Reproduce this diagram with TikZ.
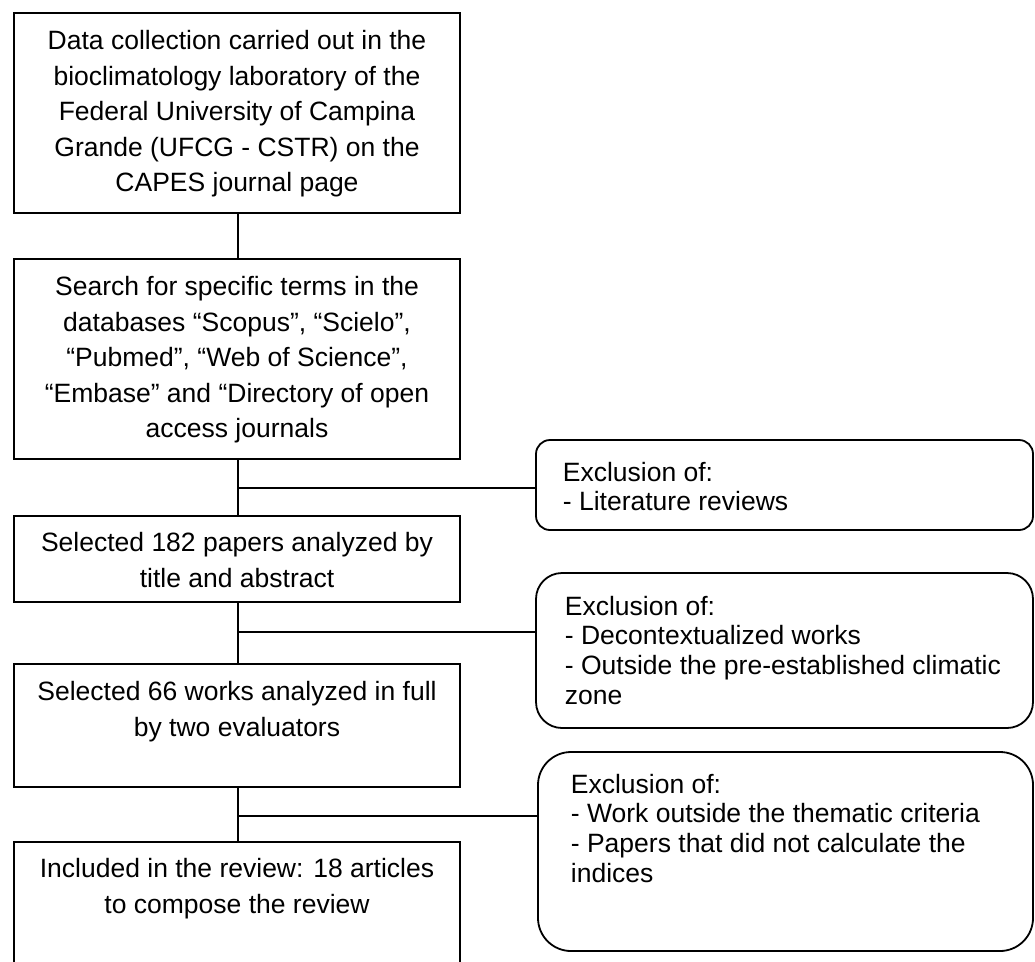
\documentclass[tikz,border=0pt]{standalone}
\usepackage{fontspec}
\setmainfont{Liberation Sans}
\begin{document}
\begin{tikzpicture}[x=1pt,y=-1pt,
  line width=1.8pt,
  mainbox/.style={draw, rectangle, anchor=north west, inner sep=0pt, outer sep=0pt},
  exbox/.style={draw, rectangle, rounded corners=#1, anchor=north west, inner sep=0pt, outer sep=0pt},
  maintext/.style={anchor=base, align=center, inner sep=0pt, font=\fontsize{26.5}{35.5}\selectfont},
  extext/.style={anchor=base west, align=left, inner sep=0pt, font=\fontsize{26.5}{29.8}\selectfont},
  link/.style={draw, line width=1.8pt}
]
\useasboundingbox (0,0) rectangle (1035,961);
\clip (0,0) rectangle (1035,961);

% main boxes
\node[mainbox, minimum width=446pt, minimum height=200pt] (b1) at (14,13) {};
\node[mainbox, minimum width=446pt, minimum height=200pt] (b2) at (14,259) {};
\node[mainbox, minimum width=446pt, minimum height=86pt] (b3) at (14,516) {};
\node[mainbox, minimum width=446pt, minimum height=123pt] (b4) at (14,664) {};
\node[mainbox, minimum width=446pt, minimum height=170pt] (b5) at (14,842) {};

% exclusion boxes
\node[exbox=14pt, minimum width=497pt, minimum height=90pt] (e1) at (536,440) {};
\node[exbox=26pt, minimum width=497pt, minimum height=155pt] (e2) at (536,573) {};
\node[exbox=33pt, minimum width=495pt, minimum height=199pt] (e3) at (538,752) {};

% main texts (anchor = baseline of the last line)
\node[maintext] (t1) at ([yshift=-178.5pt]b1.north) {Data collection carried out in the\\bioclimatology laboratory of the\\Federal University of Campina\\Grande (UFCG - CSTR) on the\\CAPES journal page};
\node[maintext] (t2) at ([yshift=-178.5pt]b2.north) {Search for specific terms in the\\databases “Scopus”, “Scielo”,\\“Pubmed”, “Web of Science”,\\“Embase” and “Directory of open\\access journals};
\node[maintext] (t3) at ([yshift=-71pt]b3.north) {Selected 182 papers analyzed by\\title and abstract};
\node[maintext] (t4) at ([yshift=-72pt]b4.north) {Selected 66 works analyzed in full\\by two evaluators};
\node[maintext] (t5) at ([yshift=-71pt]b5.north) {Included in the review: 18 articles\\to compose the review};

% exclusion texts
\node[extext] (x1) at ([xshift=26pt,yshift=-70.8pt]e1.north west) {Exclusion of:\\- Literature reviews};
\node[extext] (x2) at ([xshift=28pt,yshift=-131.4pt]e2.north west) {Exclusion of:\\- Decontextualized works\\- Outside the pre-established climatic\\zone};
\node[extext] (x3) at ([xshift=32pt,yshift=-130.4pt]e3.north west) {Exclusion of:\\- Work outside the thematic criteria\\- Papers that did not calculate the\\indices};

% connectors
\coordinate (j1) at (238,488);
\coordinate (j2) at (238,632);
\coordinate (j3) at (238,816);
\draw[link] (b1.south -| j1) -- (b2.north -| j1);
\draw[link] (b2.south -| j1) -- (b3.north -| j1);
\draw[link] (b3.south -| j2) -- (b4.north -| j2);
\draw[link] (b4.south -| j3) -- (b5.north -| j3);
\draw[link] (j1) -- (j1 -| e1.west);
\draw[link] (j2) -- (j2 -| e2.west);
\draw[link] (j3) -- (j3 -| e3.west);
\end{tikzpicture}
\end{document}
